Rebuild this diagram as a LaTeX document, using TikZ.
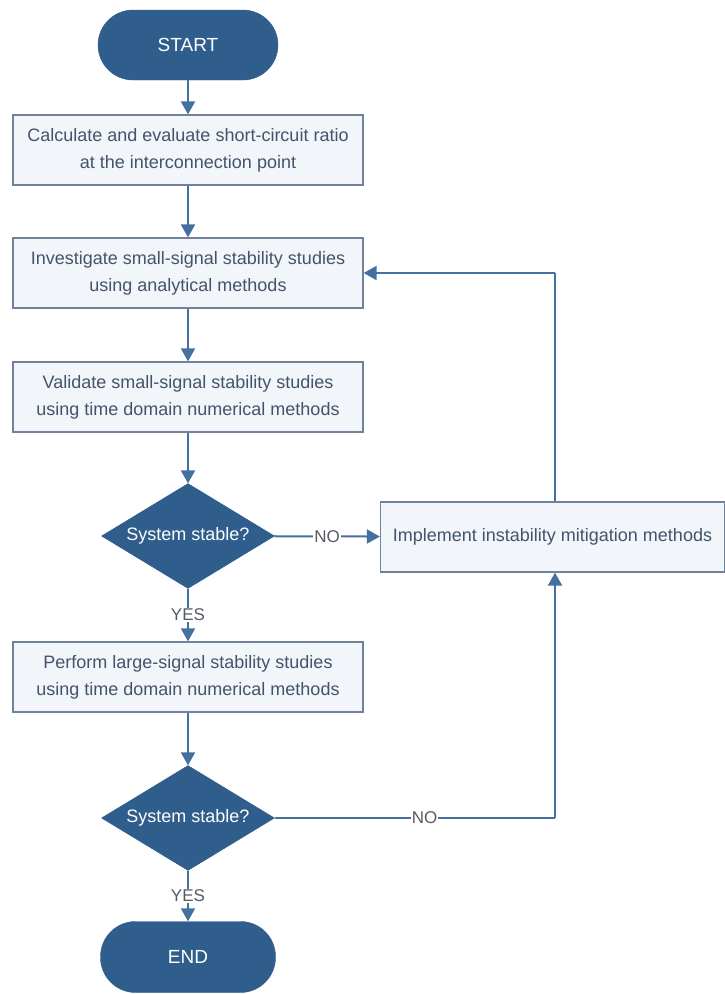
\documentclass[tikz,border=0pt]{standalone}
\usepackage{fontspec}
\setmainfont{Liberation Sans}
\usetikzlibrary{shapes.geometric,arrows.meta}
\definecolor{dkblue}{HTML}{2F5D8C}
\definecolor{lnblue}{HTML}{44709F}
\definecolor{bxborder}{HTML}{71829A}
\definecolor{bxfill}{HTML}{F2F5F9}
\definecolor{txtgray}{HTML}{44546A}
\definecolor{lblgray}{HTML}{555A63}
\tikzset{
  x=1pt,y=-1pt,
  every node/.style={font=\fontsize{18}{27}\selectfont},
  terminal/.style={draw=dkblue,fill=dkblue,rounded corners=35pt,minimum width=180pt,minimum height=70pt,text=white,inner sep=0pt,font=\fontsize{19}{27}\selectfont},
  procbox/.style={draw=bxborder,line width=1.3pt,fill=bxfill,minimum width=350pt,minimum height=70pt,text=txtgray,align=center,inner sep=0pt},
  decision/.style={diamond,draw=dkblue,fill=dkblue,aspect=1.65,minimum width=173pt,minimum height=105pt,inner sep=0pt,text=white},
  flow/.style={draw=lnblue,line width=2pt,-{Triangle[width=14pt,length=13pt]}},
  plain/.style={draw=lnblue,line width=2pt},
  lbl/.style={fill=white,text=lblgray,inner sep=1pt,font=\fontsize{17}{22}\selectfont}
}
\begin{document}
\begin{tikzpicture}
\useasboundingbox (0,0) rectangle (725,994);
\node[terminal] (start) at (188,45) {START};
\node[procbox] (b1) at (188,150) {Calculate and evaluate short-circuit ratio\\at the interconnection point};
\node[procbox] (b2) at (188,273) {Investigate small-signal stability studies\\using analytical methods};
\node[procbox] (b3) at (188,397) {Validate small-signal stability studies\\using time domain numerical methods};
\node[decision] (d1) at (188,536) {System stable?};
\node[procbox] (b4) at (188,677) {Perform large-signal stability studies\\using time domain numerical methods};
\node[decision] (d2) at (188,818) {System stable?};
\node[terminal,minimum width=175pt,minimum height=71pt] (end) at (188,957) {END};
\node[procbox,minimum width=344pt] (impl) at (552.5,537) {Implement instability mitigation methods};
\coordinate (c1) at (555,273);
\coordinate (c2) at (555,818);

\draw[flow] (start) -- (b1);
\draw[flow] (b1) -- (b2);
\draw[flow] (b2) -- (b3);
\draw[flow] (b3) -- (d1);
\draw[flow] (d1) -- node[lbl] {YES} (b4);
\draw[flow] (b4) -- (d2);
\draw[flow] (d2) -- node[lbl] {YES} (end);
\draw[flow] (d1) -- node[lbl] {NO} (impl);
\draw[plain] (d2.east) -- node[lbl,pos=0.535] {NO} (c2);
\draw[flow] (c2) -- (impl.south -| c2);
\draw[plain] (impl.north -| c1) -- (c1);
\draw[flow] (c1) -- (b2.east);
\end{tikzpicture}
\end{document}
